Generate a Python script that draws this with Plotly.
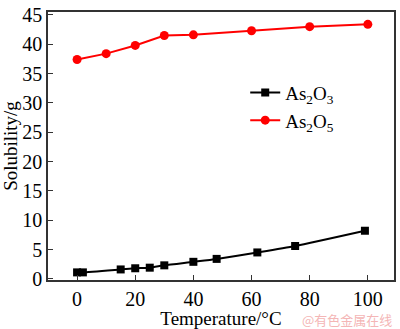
import plotly.graph_objects as go

t_as2o3 = [0, 2, 15, 20, 25, 30, 40, 48, 62, 75, 99]
s_as2o3 = [1.1, 1.1, 1.6, 1.8, 1.9, 2.3, 2.9, 3.4, 4.5, 5.6, 8.2]
t_as2o5 = [0, 10, 20, 30, 40, 60, 80, 100]
s_as2o5 = [37.4, 38.4, 39.8, 41.5, 41.6, 42.3, 43.0, 43.4]
x_ticks = [0, 20, 40, 60, 80, 100]
y_ticks = [0, 5, 10, 15, 20, 25, 30, 35, 40, 45]

font = "Liberation Serif"
fig = go.Figure()
fig.add_trace(go.Scatter(x=t_as2o3, y=s_as2o3, mode="lines+markers", name="As<sub>2</sub>O<sub>3</sub>",
                         line=dict(color="black", width=2, shape="spline", smoothing=0.6),
                         marker=dict(symbol="square", size=8, color="black")))
fig.add_trace(go.Scatter(x=t_as2o5, y=s_as2o5, mode="lines+markers", name="As<sub>2</sub>O<sub>5</sub>",
                         line=dict(color="#ff0000", width=2),
                         marker=dict(symbol="circle", size=9, color="#ff0000")))
axis_common = dict(showgrid=False, zeroline=False, showline=True, linecolor="#333", linewidth=1.5,
                   mirror=True, ticks="inside", ticklen=5, tickcolor="#333",
                   tickfont=dict(family=font, size=20, color="black"))
fig.update_layout(
    width=400, height=329, margin=dict(l=48, r=4, t=4, b=42),
    paper_bgcolor="white", plot_bgcolor="white",
    font=dict(family=font, size=19, color="black"),
    xaxis=dict(range=[-10, 109], tickvals=x_ticks,
               title=dict(text="Temperature/°C", font=dict(family=font, size=19), standoff=2), **axis_common),
    yaxis=dict(range=[-0.2, 45.5], tickvals=y_ticks, ticklabeloverflow="allow",
               title=dict(text="Solubility/g", font=dict(family=font, size=19), standoff=2), **axis_common),
    legend=dict(x=0.57, y=0.77, xanchor="left", yanchor="top", bgcolor="rgba(0,0,0,0)",
                font=dict(family=font, size=19), tracegroupgap=0, itemwidth=30),
    showlegend=True,
)
fig.add_annotation(text="@有色金属在线", x=1.0, y=0.0, xref="paper", yref="paper", xanchor="right", yanchor="top",
                   yshift=-28, showarrow=False, font=dict(family="Noto Sans CJK SC", size=13, color="#f4b6b6"))
fig.write_html("out.html")
